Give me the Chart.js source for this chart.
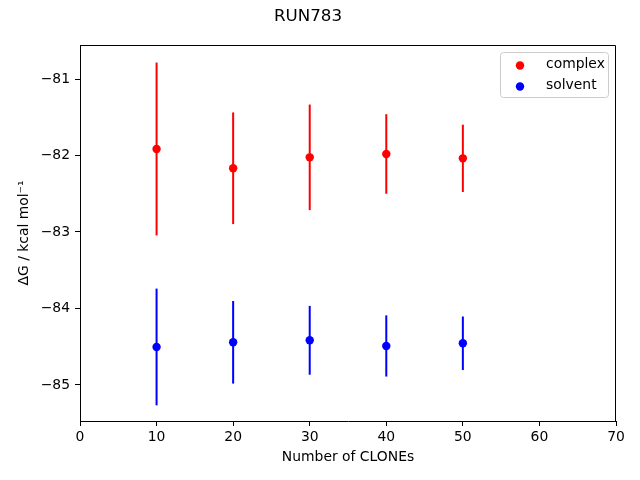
<!DOCTYPE html>
<html>
<head>
<meta charset="utf-8">
<script src="https://cdn.jsdelivr.net/npm/chart.js@4/dist/chart.umd.min.js"></script>
<style>
  body { margin: 0; background: #fff; }
  #wrap { width: 640px; height: 480px; }
</style>
</head>
<body>
<div id="wrap"><canvas id="runChart" width="640" height="480"></canvas></div>
<script>
// values
const clones = [10, 20, 30, 40, 50];
const complexMean = [-81.915, -82.167, -82.024, -81.980, -82.037];
const complexErr = [1.13, 0.73, 0.69, 0.52, 0.44];
const solventMean = [-84.503, -84.442, -84.416, -84.490, -84.455];
const solventErr = [0.763, 0.54, 0.45, 0.40, 0.35];
const xTicks = [0, 10, 20, 30, 40, 50, 60, 70];
const yTicks = [-85, -84, -83, -82, -81];
const yMin = -85.471;
const yMax = -80.556;

Chart.defaults.font.family = "'DejaVu Sans', sans-serif";
Chart.defaults.color = '#000';

function points(xs, ys) {
    return xs.map((x, i) => ({ x: x, y: ys[i] }));
}

function minusLabel(v) {
    return v < 0 ? '\u2212' + Math.abs(v) : String(v);
}

// vertical error bars, drawn under the markers like matplotlib does
const errorBars = {
    id: 'errorBars',
    beforeDatasetsDraw(chart) {
        const ctx = chart.ctx;
        const xs = chart.scales.x;
        const ys = chart.scales.y;
        ctx.save();
        chart.data.datasets.forEach(ds => {
            ctx.strokeStyle = ds.backgroundColor;
            ctx.lineWidth = 2;
            ds.data.forEach((p, i) => {
                const px = xs.getPixelForValue(p.x);
                ctx.beginPath();
                ctx.moveTo(px, ys.getPixelForValue(p.y + ds.errors[i]));
                ctx.lineTo(px, ys.getPixelForValue(p.y - ds.errors[i]));
                ctx.stroke();
            });
        });
        ctx.restore();
    }
};

// top and right spines plus the framed legend box
const frameAndLegend = {
    id: 'frameAndLegend',
    afterDraw(chart) {
        const ctx = chart.ctx;
        const a = chart.chartArea;
        ctx.save();
        ctx.strokeStyle = '#000';
        ctx.lineWidth = 1;
        ctx.beginPath();
        ctx.moveTo(Math.round(a.left) + 0.5, Math.round(a.top) + 0.5);
        ctx.lineTo(Math.round(a.right) - 0.5, Math.round(a.top) + 0.5);
        ctx.lineTo(Math.round(a.right) - 0.5, Math.round(a.bottom));
        ctx.stroke();

        const bx = a.right - 115.5, by = a.top + 7.5, bw = 108, bh = 45;
        ctx.fillStyle = 'rgba(255,255,255,0.8)';
        ctx.strokeStyle = '#ccc';
        ctx.beginPath();
        ctx.roundRect(bx, by, bw, bh, 3);
        ctx.fill();
        ctx.stroke();

        ctx.font = "13.9px 'DejaVu Sans'";
        ctx.textBaseline = 'middle';
        chart.data.datasets.forEach((ds, i) => {
            const cy = by + 13 + i * 21;
            ctx.fillStyle = ds.backgroundColor;
            ctx.beginPath();
            ctx.arc(bx + 19.5, cy, 4.2, 0, Math.PI * 2);
            ctx.fill();
            ctx.fillStyle = '#000';
            ctx.fillText(ds.label, bx + 45.5, cy - 1);
        });
        ctx.restore();
    }
};

new Chart(document.getElementById('runChart'), {
    type: 'scatter',
    data: {
        datasets: [
            {
                label: 'complex',
                data: points(clones, complexMean),
                errors: complexErr,
                backgroundColor: 'red',
                borderWidth: 0,
                pointRadius: 4.2,
                pointHoverRadius: 4.2
            },
            {
                label: 'solvent',
                data: points(clones, solventMean),
                errors: solventErr,
                backgroundColor: 'blue',
                borderWidth: 0,
                pointRadius: 4.2,
                pointHoverRadius: 4.2
            }
        ]
    },
    options: {
        responsive: false,
        animation: false,
        events: [],
        layout: { padding: { left: 0, right: 24, top: 0, bottom: 0 } },
        plugins: {
            legend: { display: false },
            tooltip: { enabled: false },
            title: {
                display: true,
                text: 'RUN783',
                color: '#000',
                font: { size: 16.7, weight: 'normal' },
                padding: { top: 7, bottom: 18 }
            }
        },
        scales: {
            x: {
                type: 'linear',
                min: 0,
                max: 70,
                afterBuildTicks: s => { s.ticks = xTicks.map(v => ({ value: v })); },
                afterFit: s => { s.height = 59; },
                ticks: { font: { size: 13.9 }, padding: 3, maxRotation: 0, callback: minusLabel },
                grid: { drawOnChartArea: false, tickLength: 5, tickColor: '#000' },
                border: { color: '#000', width: 1 },
                title: {
                    display: true,
                    text: 'Number of CLONEs',
                    font: { size: 13.9 },
                    padding: { top: 0, bottom: 14 }
                }
            },
            y: {
                min: yMin,
                max: yMax,
                afterBuildTicks: s => { s.ticks = yTicks.map(v => ({ value: v })); },
                afterFit: s => { s.width = 80; },
                ticks: { font: { size: 13.9 }, padding: 5, callback: minusLabel },
                grid: { drawOnChartArea: false, tickLength: 5, tickColor: '#000' },
                border: { color: '#000', width: 1 },
                title: {
                    display: true,
                    text: 'ΔG / kcal mol⁻¹',
                    font: { size: 13.9 },
                    padding: { top: 16, bottom: 0 }
                }
            }
        }
    },
    plugins: [errorBars, frameAndLegend]
});
</script>
</body>
</html>
